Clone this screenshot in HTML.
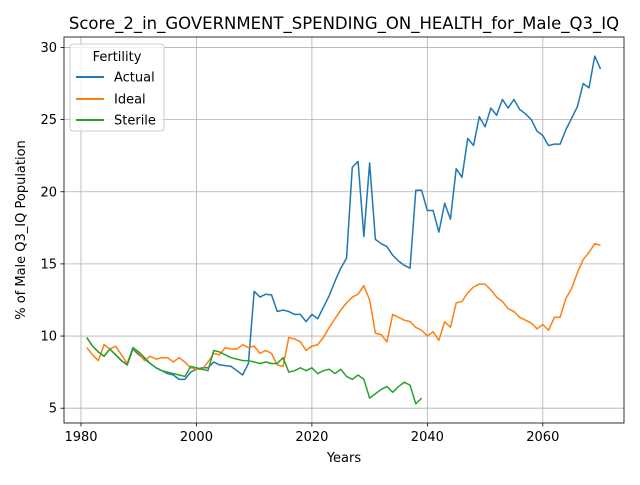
<!DOCTYPE html>
<html><head><meta charset="utf-8"><style>
body{margin:0;background:#fff;}
svg text{font-family:"DejaVu Sans","Liberation Sans",sans-serif;fill:#000;}
</style></head><body>
<svg id="chart" width="640" height="480" viewBox="0 0 640 480" xmlns="http://www.w3.org/2000/svg">
<rect width="640" height="480" fill="#fff"/>
<text x="344" y="29" font-size="16.5" text-anchor="middle">Score_2_in_GOVERNMENT_SPENDING_ON_HEALTH_for_Male_Q3_IQ</text>
<g id="grid"></g>
<g id="series"></g>
<rect x="64" y="37" width="560" height="386" fill="none" stroke="#000" stroke-width="0.8"/>
<g id="axes"></g>
<text x="344" y="462" font-size="13" text-anchor="middle">Years</text>
<text x="0" y="0" font-size="13" text-anchor="middle" transform="translate(25,230) rotate(-90)">% of Male Q3_IQ Population</text>
<g>
<rect x="70" y="44" width="94" height="87" rx="3" fill="#fff" fill-opacity="0.8" stroke="#ccc"/>
<text x="117" y="61" font-size="13" text-anchor="middle">Fertility</text>
<g><line x1="76" y1="77" x2="104" y2="77" stroke="#1f77b4" stroke-width="2"/><text x="114" y="81.5" font-size="13">Actual</text></g>
<g><line x1="76" y1="99" x2="104" y2="99" stroke="#ff7f0e" stroke-width="2"/><text x="114" y="103.5" font-size="13">Ideal</text></g>
<g><line x1="76" y1="120" x2="104" y2="120" stroke="#2ca02c" stroke-width="2"/><text x="114" y="124.5" font-size="13">Sterile</text></g>
</g>
</svg>
<script>
const startYear = 1981;
const actual = [9.9,9.3,8.9,8.6,9.1,8.7,8.3,8.0,9.1,8.7,8.4,8.1,7.8,7.6,7.4,7.3,7.0,7.0,7.5,7.7,7.8,7.8,8.2,8.0,7.95,7.9,7.6,7.3,8.1,13.1,12.7,12.9,12.85,11.7,11.8,11.7,11.5,11.5,11.0,11.5,11.2,12.0,12.8,13.8,14.7,15.4,21.7,22.1,16.9,22.0,16.7,16.4,16.2,15.6,15.2,14.9,14.7,20.1,20.1,18.7,18.7,17.2,19.2,18.1,21.6,21.0,23.7,23.2,25.2,24.5,25.8,25.3,26.4,25.8,26.4,25.7,25.4,25.0,24.2,23.9,23.2,23.3,23.3,24.3,25.1,25.9,27.5,27.2,29.4,28.5];
const ideal = [9.2,8.7,8.3,9.4,9.1,9.3,8.7,8.1,9.2,8.8,8.3,8.6,8.4,8.5,8.5,8.2,8.5,8.2,7.8,7.7,7.7,8.2,8.8,8.7,9.2,9.1,9.1,9.4,9.2,9.3,8.8,9.0,8.8,8.0,7.9,9.9,9.8,9.6,9.0,9.3,9.4,9.9,10.6,11.2,11.8,12.3,12.7,12.9,13.5,12.5,10.2,10.1,9.6,11.5,11.3,11.1,11.0,10.6,10.4,10.0,10.3,9.7,11.0,10.6,12.3,12.4,13.0,13.4,13.6,13.6,13.2,12.7,12.4,11.9,11.7,11.3,11.1,10.9,10.5,10.8,10.4,11.3,11.3,12.6,13.3,14.4,15.3,15.8,16.4,16.3];
const sterile = [9.9,9.3,8.9,8.6,9.1,8.7,8.3,8.0,9.2,8.9,8.5,8.1,7.8,7.6,7.5,7.4,7.3,7.2,7.9,7.8,7.7,7.6,9.0,8.9,8.7,8.5,8.4,8.3,8.3,8.2,8.1,8.2,8.1,8.1,8.5,7.5,7.6,7.8,7.6,7.8,7.4,7.6,7.7,7.4,7.7,7.2,7.0,7.3,7.0,5.7,6.0,6.3,6.5,6.1,6.5,6.8,6.6,5.3,5.7];
const xTicks = [1980,2000,2020,2040,2060];
const yTicks = [5,10,15,20,25,30];

const NS="http://www.w3.org/2000/svg";
function xs(v){return 81+(v-1980)*5.7725;}
function ys(v){return 408.2-(v-5)*14.43;}
const grid=document.getElementById('grid'), axes=document.getElementById('axes'), ser=document.getElementById('series');
function mk(tag,attrs,parent){const e=document.createElementNS(NS,tag);for(const k in attrs)e.setAttribute(k,attrs[k]);parent.appendChild(e);return e;}
xTicks.forEach(t=>{
  const x=xs(t);
  const g=mk('line',{x1:x,x2:x,y1:37,y2:423,stroke:'#b0b0b0','stroke-width':0.8},grid);
  
  
  mk('line',{x1:x,x2:x,y1:423,y2:426.5,stroke:'#000','stroke-width':0.8},axes);
  const tx=mk('text',{x:x,y:441,'font-size':13,'text-anchor':'middle'},axes);
  tx.textContent=t;
  
  
});
yTicks.forEach(t=>{
  const y=ys(t);
  const g=mk('line',{x1:64,x2:624,y1:y,y2:y,stroke:'#b0b0b0','stroke-width':0.8},grid);
  
  
  mk('line',{x1:60.5,x2:64,y1:y,y2:y,stroke:'#000','stroke-width':0.8},axes);
  const tx=mk('text',{x:57,y:y+4.5,'font-size':13,'text-anchor':'end'},axes);
  tx.textContent=t;
  
  
});
function line(arr,color,name){
  const pts=arr.map((v,i)=>xs(startYear+i).toFixed(2)+','+ys(v).toFixed(2)).join(' ');
  const p=mk('polyline',{points:pts,fill:'none',stroke:color,'stroke-width':1.5,'stroke-linejoin':'round'},ser);
  
  
}
line(actual,'#1f77b4','actual-line');
line(ideal,'#ff7f0e','ideal-line');
line(sterile,'#2ca02c','sterile-line');
</script>
</body></html>
